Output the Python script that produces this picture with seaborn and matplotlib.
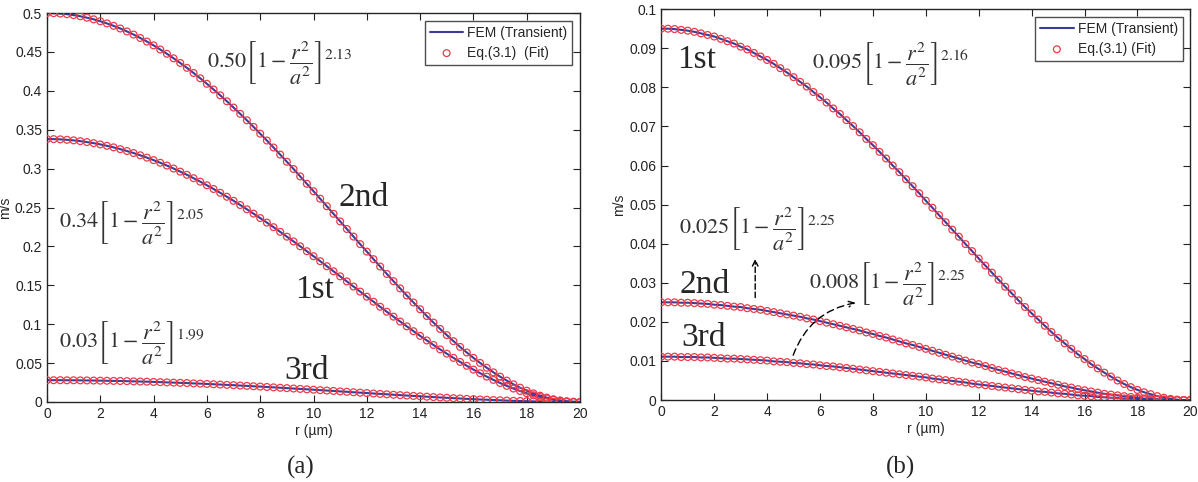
import numpy as np
import pandas as pd
import matplotlib
matplotlib.use("Agg")
import matplotlib.pyplot as plt
import seaborn as sns

# radial positions (um), sampling every 0.25 um
r_um = np.arange(0, 20.01, 0.25)

# panel (a) velocity profiles, m/s
a_2nd = [0.5, 0.4998, 0.4993, 0.4985, 0.4973, 0.4958, 0.4940, 0.4919, 0.4894, 0.4866, 0.4835, 0.4801, 0.4763, 0.4723, 0.4679, 0.4633, 0.4584,
         0.4531, 0.4476, 0.4418, 0.4358, 0.4295, 0.4229, 0.4161, 0.4090, 0.4017, 0.3942, 0.3865, 0.3785, 0.3704, 0.3621, 0.3536, 0.3449,
         0.3361, 0.3271, 0.3180, 0.3088, 0.2995, 0.2900, 0.2805, 0.2709, 0.2613, 0.2516, 0.2419, 0.2321, 0.2224, 0.2126, 0.2029, 0.1933,
         0.1836, 0.1741, 0.1646, 0.1553, 0.1460, 0.1369, 0.1279, 0.1192, 0.1105, 0.1021, 0.0939, 0.0860, 0.0782, 0.0708, 0.0636, 0.0567,
         0.0502, 0.0440, 0.0381, 0.0326, 0.0275, 0.0227, 0.0184, 0.0145, 0.0111, 0.0081, 0.0056, 0.0035, 0.0019, 0.0008, 0.0002, 0.0]
a_1st = [0.338, 0.3379, 0.3376, 0.3370, 0.3363, 0.3353, 0.3341, 0.3327, 0.3311, 0.3293, 0.3273, 0.3250, 0.3226, 0.3200, 0.3171, 0.3141, 0.3109,
         0.3075, 0.3039, 0.3001, 0.2961, 0.2920, 0.2877, 0.2832, 0.2786, 0.2738, 0.2689, 0.2638, 0.2586, 0.2532, 0.2477, 0.2421, 0.2364,
         0.2306, 0.2247, 0.2187, 0.2125, 0.2064, 0.2001, 0.1938, 0.1874, 0.1810, 0.1745, 0.1680, 0.1615, 0.1550, 0.1484, 0.1419, 0.1354,
         0.1289, 0.1224, 0.1160, 0.1097, 0.1034, 0.0972, 0.0910, 0.0850, 0.0791, 0.0733, 0.0676, 0.0621, 0.0567, 0.0515, 0.0465, 0.0416,
         0.0370, 0.0326, 0.0284, 0.0244, 0.0207, 0.0173, 0.0141, 0.0112, 0.0087, 0.0064, 0.0045, 0.0029, 0.0016, 0.0007, 0.0002, 0.0]
a_3rd = [0.0280, 0.0280, 0.0280, 0.0279, 0.0279, 0.0278, 0.0277, 0.0276, 0.0274, 0.0273, 0.0271, 0.0270, 0.0268, 0.0265, 0.0263, 0.0261, 0.0258,
         0.0255, 0.0252, 0.0249, 0.0246, 0.0243, 0.0239, 0.0236, 0.0232, 0.0228, 0.0224, 0.0220, 0.0216, 0.0211, 0.0207, 0.0202, 0.0198,
         0.0193, 0.0188, 0.0183, 0.0178, 0.0173, 0.0168, 0.0163, 0.0158, 0.0152, 0.0147, 0.0142, 0.0136, 0.0131, 0.0125, 0.0120, 0.0115,
         0.0109, 0.0104, 0.0099, 0.0093, 0.0088, 0.0083, 0.0078, 0.0073, 0.0068, 0.0063, 0.0058, 0.0054, 0.0049, 0.0045, 0.0040, 0.0036,
         0.0032, 0.0029, 0.0025, 0.0022, 0.0018, 0.0015, 0.0013, 0.0010, 0.0008, 0.0006, 0.0004, 0.0003, 0.0002, 0.0001, 0.0000, 0.0]

# panel (b)
b_1st = [0.0950, 0.0950, 0.0949, 0.0947, 0.0945, 0.0942, 0.0938, 0.0934, 0.0930, 0.0924, 0.0918, 0.0912, 0.0904, 0.0897, 0.0888, 0.0879, 0.0870,
         0.0860, 0.0849, 0.0838, 0.0826, 0.0814, 0.0802, 0.0788, 0.0775, 0.0761, 0.0746, 0.0732, 0.0716, 0.0701, 0.0685, 0.0668, 0.0652,
         0.0635, 0.0618, 0.0600, 0.0583, 0.0565, 0.0547, 0.0529, 0.0510, 0.0492, 0.0473, 0.0455, 0.0436, 0.0418, 0.0399, 0.0381, 0.0362,
         0.0344, 0.0326, 0.0308, 0.0290, 0.0273, 0.0255, 0.0238, 0.0222, 0.0206, 0.0190, 0.0174, 0.0159, 0.0145, 0.0131, 0.0117, 0.0105,
         0.0092, 0.0081, 0.0070, 0.0060, 0.0050, 0.0041, 0.0033, 0.0026, 0.0020, 0.0015, 0.0010, 0.0006, 0.0003, 0.0001, 0.0000, 0.0]
b_2nd = [0.0250, 0.0250, 0.0250, 0.0249, 0.0249, 0.0248, 0.0247, 0.0246, 0.0244, 0.0243, 0.0241, 0.0239, 0.0238, 0.0235, 0.0233, 0.0231, 0.0228,
         0.0225, 0.0222, 0.0219, 0.0216, 0.0213, 0.0209, 0.0206, 0.0202, 0.0198, 0.0194, 0.0190, 0.0186, 0.0182, 0.0178, 0.0173, 0.0169,
         0.0164, 0.0160, 0.0155, 0.0150, 0.0145, 0.0141, 0.0136, 0.0131, 0.0126, 0.0121, 0.0116, 0.0111, 0.0106, 0.0101, 0.0096, 0.0092,
         0.0087, 0.0082, 0.0077, 0.0073, 0.0068, 0.0064, 0.0059, 0.0055, 0.0051, 0.0047, 0.0043, 0.0039, 0.0035, 0.0032, 0.0028, 0.0025,
         0.0022, 0.0019, 0.0016, 0.0014, 0.0012, 0.0010, 0.0008, 0.0006, 0.0004, 0.0003, 0.0002, 0.0001, 0.0001, 0.0000, 0.0000, 0.0]
b_3rd = [0.0111, 0.0111, 0.0111, 0.0110, 0.0110, 0.0110, 0.0109, 0.0109, 0.0108, 0.0107, 0.0106, 0.0106, 0.0105, 0.0104, 0.0103, 0.0102, 0.0101,
         0.0099, 0.0098, 0.0097, 0.0095, 0.0094, 0.0092, 0.0091, 0.0089, 0.0087, 0.0086, 0.0084, 0.0082, 0.0080, 0.0078, 0.0076, 0.0074,
         0.0072, 0.0070, 0.0068, 0.0066, 0.0064, 0.0062, 0.0060, 0.0058, 0.0055, 0.0053, 0.0051, 0.0049, 0.0047, 0.0045, 0.0042, 0.0040,
         0.0038, 0.0036, 0.0034, 0.0032, 0.0030, 0.0028, 0.0026, 0.0024, 0.0022, 0.0021, 0.0019, 0.0017, 0.0016, 0.0014, 0.0012, 0.0011,
         0.0010, 0.0008, 0.0007, 0.0006, 0.0005, 0.0004, 0.0003, 0.0003, 0.0002, 0.0001, 0.0001, 0.0001, 0.0000, 0.0000, 0.0000, 0.0]

x_ticks = [0, 2, 4, 6, 8, 10, 12, 14, 16, 18, 20]
a_yticks = [0, 0.05, 0.1, 0.15, 0.2, 0.25, 0.3, 0.35, 0.4, 0.45, 0.5]
a_ylabels = ["0", "0.05", "0.1", "0.15", "0.2", "0.25", "0.3", "0.35", "0.4", "0.45", "0.5"]
b_yticks = [0, 0.01, 0.02, 0.03, 0.04, 0.05, 0.06, 0.07, 0.08, 0.09, 0.1]
b_ylabels = ["0", "0.01", "0.02", "0.03", "0.04", "0.05", "0.06", "0.07", "0.08", "0.09", "0.1"]

sns.set_style("ticks")
plt.rcParams["font.family"] = ["Liberation Sans", "DejaVu Sans"]
plt.rcParams["mathtext.fontset"] = "stix"
plt.rcParams["xtick.direction"] = "in"
plt.rcParams["ytick.direction"] = "in"

line_col = "#3c3c9a"
fit_col = "#ec3a46"
eq_col = "#333333"

fig = plt.figure(figsize=(11.98, 4.82), dpi=100)
ax_a = fig.add_axes([0.0392, 0.166, 0.445, 0.807])
ax_b = fig.add_axes([0.552, 0.170, 0.4416, 0.811])


def draw_panel(ax, curves, yticks, ylabels, ymax, fit_label):
    for i, vals in enumerate(curves):
        df = pd.DataFrame({"r": r_um, "v": vals})
        sns.lineplot(data=df, x="r", y="v", ax=ax, color=line_col, linewidth=1.5,
                     label="FEM (Transient)" if i == 0 else None)
        sns.scatterplot(data=df, x="r", y="v", ax=ax, facecolor="none", edgecolor=fit_col,
                        marker="o", s=24, linewidth=0.9, zorder=3,
                        label=fit_label if i == 0 else None)
    ax.set_xlim(0, 20)
    ax.set_ylim(0, ymax)
    ax.set_xticks(x_ticks)
    ax.set_yticks(yticks)
    ax.set_yticklabels(ylabels)
    ax.tick_params(labelsize=10, length=5, width=0.8, top=True, right=True, colors="#222222")
    for s in ax.spines.values():
        s.set_linewidth(1.0)
    ax.set_xlabel("r (µm)", fontsize=10, labelpad=2)
    ax.set_ylabel("m/s", fontsize=10, labelpad=2)
    leg = ax.legend(loc="upper right", fontsize=10, frameon=True, fancybox=False,
                    edgecolor="#222222", borderaxespad=0.55, handlelength=2.4,
                    handletextpad=0.3, borderpad=0.35, labelspacing=0.45)
    leg.get_frame().set_linewidth(1.0)


draw_panel(ax_a, [a_2nd, a_1st, a_3rd], a_yticks, a_ylabels, 0.5, "Eq.(3.1)  (Fit)")
draw_panel(ax_b, [b_1st, b_2nd, b_3rd], b_yticks, b_ylabels, 0.1, "Eq.(3.1) (Fit)")

serif = "Liberation Serif"
fs_big = 24
fs_eq = 16

# panel (a) annotations
ax_a.text(6.0, 0.436, r"$0.50\left[1-\dfrac{r^2}{a^2}\right]^{2.13}$", fontsize=fs_eq, va="center", color=eq_col)
ax_a.text(0.45, 0.231, r"$0.34\left[1-\dfrac{r^2}{a^2}\right]^{2.05}$", fontsize=fs_eq, va="center", color=eq_col)
ax_a.text(0.45, 0.076, r"$0.03\left[1-\dfrac{r^2}{a^2}\right]^{1.99}$", fontsize=fs_eq, va="center", color=eq_col)
ax_a.text(10.95, 0.262, "2nd", fontsize=fs_big, family=serif, va="center")
ax_a.text(9.3, 0.144, "1st", fontsize=fs_big, family=serif, va="center")
ax_a.text(8.9, 0.040, "3rd", fontsize=fs_big, family=serif, va="center")

# panel (b) annotations
ax_b.text(5.7, 0.0862, r"$0.095\left[1-\dfrac{r^2}{a^2}\right]^{2.16}$", fontsize=fs_eq, va="center", color=eq_col)
ax_b.text(0.68, 0.044, r"$0.025\left[1-\dfrac{r^2}{a^2}\right]^{2.25}$", fontsize=fs_eq, va="center", color=eq_col)
ax_b.text(5.6, 0.0299, r"$0.008\left[1-\dfrac{r^2}{a^2}\right]^{2.25}$", fontsize=fs_eq, va="center", color=eq_col)
ax_b.text(0.6, 0.087, "1st", fontsize=fs_big, family=serif, va="center")
ax_b.text(0.68, 0.0294, "2nd", fontsize=fs_big, family=serif, va="center")
ax_b.text(0.75, 0.0159, "3rd", fontsize=fs_big, family=serif, va="center")
ax_b.annotate("", xy=(3.55, 0.0368), xytext=(3.55, 0.0255),
              arrowprops=dict(arrowstyle="->", color="black", lw=1.0, linestyle=(0, (4, 2))))
ax_b.annotate("", xy=(7.45, 0.0250), xytext=(4.95, 0.0108),
              arrowprops=dict(arrowstyle="->", color="black", lw=1.0, linestyle=(0, (5, 3)),
                              connectionstyle="arc3,rad=-0.3"))

fig.text(0.251, 0.055, "(a)", fontsize=18, family=serif, ha="center", va="top")
fig.text(0.752, 0.055, "(b)", fontsize=18, family=serif, ha="center", va="top")

fig.savefig("out.png", dpi=100)
